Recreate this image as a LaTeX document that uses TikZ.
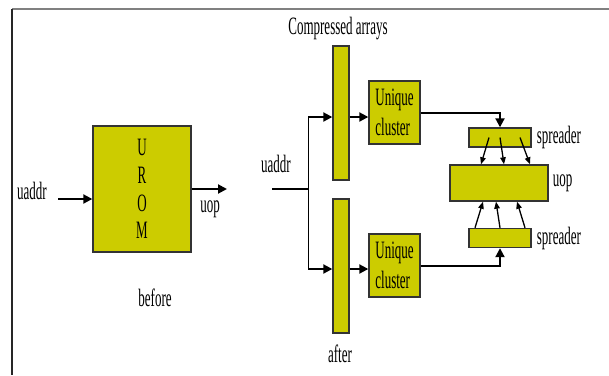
\documentclass[tikz,border=0pt]{standalone}
\usepackage{fontspec}
\setmainfont{Liberation Serif}[FakeStretch=0.52]
\usepackage{tikz}
\usetikzlibrary{arrows.meta,calc,positioning}
\definecolor{romfill}{RGB}{204,204,0}

\begin{document}
\begin{tikzpicture}[x=1pt,y=-1pt,>={Triangle[length=9pt,width=9pt]},
  font=\fontsize{25}{30}\selectfont,inner sep=0pt,
  blk/.style={draw=black!80,line width=1.4pt,fill=romfill},
  flow/.style={->,line width=2pt},
  fan/.style={-{Triangle[length=7pt,width=5.5pt]},line width=1.3pt}]
\useasboundingbox (0,0) rectangle (609,375);
% frame
\draw[gray,line width=1.2pt] (12,9)--(609,9);
\draw[black!85,line width=1.2pt] (12,9)--(12,375);
% before: the plain ROM
\node[blk,minimum width=98pt,minimum height=126pt,align=center,font=\fontsize{25}{27.7}\selectfont] (urom) at (142,189) {U\\R\\O\\M};
\node (uaddrA) at (32,191) {uaddr};
\node (uopA) at (210,209) {uop};
\node (before) at (155,298) {before};
\coordinate (inA) at (58,199);
\coordinate (outA) at (227,189);
\draw[flow] (inA)--(inA -| urom.west);
\draw[flow] (urom.east)--(outA);
% after: compressed arrays
\node (cap) at (338,29) {Compressed arrays};
\node[blk,minimum width=16pt,minimum height=134pt] (arrtop) at (341,113) {};
\node[blk,minimum width=16pt,minimum height=134pt] (arrbot) at (341,266) {};
\node (after) at (340,354) {after};
\node (uaddrB) at (276,164) {uaddr};
\node[blk,minimum width=51pt,minimum height=63pt,align=left] (uctop) at (394.5,112.5) {Unique\\cluster};
\node[blk,minimum width=51pt,minimum height=63pt,align=left] (ucbot) at (394.5,265.5) {Unique\\cluster};
% spreaders and uop
\node[blk,minimum width=62pt,minimum height=19pt] (spdtop) at (500,137.5) {};
\node[blk,minimum width=98pt,minimum height=36pt] (uopbox) at (499,183) {};
\node[blk,minimum width=62pt,minimum height=19pt] (spdbot) at (500,238) {};
\node[right=5pt of spdtop] (spdtopL) {spreader};
\node[right=5pt of spdbot] (spdbotL) {spreader};
\node[right=4pt of uopbox] (uopB) {uop};
% address fork
\coordinate (ua) at (272,189);
\coordinate (fork) at (308,189);
\coordinate (ft) at (308,117);
\coordinate (fb) at (308,269);
\draw[line width=2pt] (ua)--(fork);
\draw[line width=1pt] (ft)--(fb);
\draw[flow] (ft)--(ft -| arrtop.west);
\draw[flow] (fb)--(fb -| arrbot.west);
\draw[flow] (ft -| arrtop.east)--(ft -| uctop.west);
\draw[flow] (fb -| arrbot.east)--(fb -| ucbot.west);
\draw[flow] (uctop.east) -| (spdtop.north);
\draw[flow] (ucbot.east) -| (spdbot.south);
% spreader fan-out
\foreach \a/\b in {489/481,500/504,520/530}{\draw[fan] (\a,0 |- spdtop.center)--(\b,0 |- uopbox.north);}
\foreach \a/\b in {475/483,500/496,525/517}{\draw[fan] (\a,0 |- spdbot.north)--(\b,0 |- uopbox.south);}
\end{tikzpicture}
\end{document}
